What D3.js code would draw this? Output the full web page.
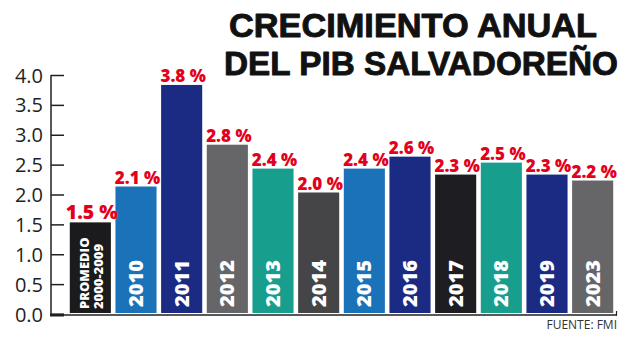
<!DOCTYPE html>
<html><head><meta charset="utf-8">
<script src="https://cdn.jsdelivr.net/npm/d3@7"></script>
<style>html,body{margin:0;padding:0;background:#fff}svg{display:block}</style>
</head><body><svg id="c" width="627" height="342"></svg>
<script>
const categories = ["PROMEDIO", "2010", "2011", "2012", "2013", "2014", "2015", "2016", "2017", "2018", "2019", "2023"];
const values = [1.5, 2.1, 3.8, 2.8, 2.4, 2.0, 2.4, 2.6, 2.3, 2.5, 2.3, 2.2];
const valueLabels = ["1.5 %", "2.1 %", "3.8 %", "2.8 %", "2.4 %", "2.0 %", "2.4 %", "2.6 %", "2.3 %", "2.5 %", "2.3 %", "2.2 %"];
const colors = ["#1b1a1c", "#1a73b8", "#1b2a82", "#666668", "#179e8d", "#454547", "#1a73b8", "#1b2a82", "#1e1e22", "#179e8d", "#1b2a82", "#666668"];
const yTicks = [0, 0.5, 1.0, 1.5, 2.0, 2.5, 3.0, 3.5, 4.0];
const titleLines = ["CRECIMIENTO ANUAL", "DEL PIB SALVADOREÑO"];
const sourceText = "FUENTE: FMI";
const promedioSub = "2000-2009";

const svg = d3.select("#c");
const x = d3.scaleBand().domain(categories).range([67.5, 615.5]).paddingInner(0.1).paddingOuter(0.05);
const y = d3.scaleLinear().domain([0, 4]).range([314, 75]);

// title
const tg = svg.append("g").attr("font-family", "'Liberation Sans', Arial, sans-serif").attr("font-weight", 700)
  .attr("fill", "#111").attr("stroke", "#111").attr("stroke-width", 0.9).attr("stroke-linejoin", "round").attr("font-size", 33);
tg.append("text").attr("x", 229).attr("y", 36.5).attr("textLength", 368).attr("lengthAdjust", "spacingAndGlyphs").text(titleLines[0]);
tg.append("text").attr("x", 224).attr("y", 74.5).attr("textLength", 394).attr("lengthAdjust", "spacingAndGlyphs").text(titleLines[1]);

// axis
const axis = d3.axisRight(y).tickValues(yTicks).tickSize(13).tickFormat(d3.format(".1f"));
const ag = svg.append("g").attr("transform", "translate(51,0)").call(axis);
ag.select(".domain").attr("stroke", "#231f20").attr("stroke-width", 1.5).attr("d", `M0,${y(4)}V${y(0)+1}`);
ag.selectAll(".tick line").attr("stroke", "#231f20").attr("stroke-width", 1.5);
ag.selectAll(".tick text").attr("x", -8).attr("text-anchor", "end").attr("dy", "0.35em")
  .attr("font-family", "'Open Sans', sans-serif").attr("font-size", 20).attr("fill", "#231f20");

// baseline
svg.append("line").attr("x1", 50).attr("x2", 617).attr("y1", y(0) + 1).attr("y2", y(0) + 1).attr("stroke", "#231f20").attr("stroke-width", 1.5);
svg.append("line").attr("x1", 50).attr("x2", 64).attr("y1", y(0) + 1).attr("y2", y(0) + 1).attr("stroke", "#231f20").attr("stroke-width", 3);
svg.append("line").attr("x1", 616.5).attr("x2", 616.5).attr("y1", y(0) + 1.5).attr("y2", y(0) - 3).attr("stroke", "#231f20").attr("stroke-width", 1.2);

// bars
svg.append("g").selectAll("rect").data(categories).join("rect")
  .attr("x", d => x(d)).attr("width", x.bandwidth())
  .attr("y", (d, i) => y(values[i]) - 2).attr("height", (d, i) => y(0) - 1 - y(values[i]) + 2)
  .attr("fill", (d, i) => colors[i]);

// value labels
svg.append("g").selectAll("text").data(categories).join("text")
  .attr("x", d => x(d) + x.bandwidth() / 2 + 1.5)
  .attr("y", (d, i) => y(values[i]) - 5)
  .attr("text-anchor", "middle")
  .attr("font-family", "'Open Sans', sans-serif").attr("font-weight", 800)
  .attr("font-size", (d, i) => i === 0 ? 19.5 : 17)
  .attr("fill", "#e3001b")
  .text((d, i) => valueLabels[i]);

// year labels inside bars
const yl = svg.append("g").attr("font-family", "'Open Sans', sans-serif").attr("font-weight", 800).attr("fill", "#fff");
categories.forEach((c, i) => {
  const cx = x(c) + x.bandwidth() / 2;
  if (i === 0) {
    yl.append("text").attr("transform", `translate(${cx - 1},${y(0) - 5}) rotate(-90)`).attr("font-size", 13).text(c);
    yl.append("text").attr("transform", `translate(${cx + 13},${y(0) - 5}) rotate(-90)`).attr("font-size", 13).text(promedioSub);
  } else {
    yl.append("text").attr("transform", `translate(${cx + 7},${y(0) - 7}) rotate(-90)`).attr("font-size", 20).text(c);
  }
});

// source
svg.append("text").attr("x", 617).attr("y", 329).attr("text-anchor", "end")
  .attr("font-family", "'Open Sans', sans-serif").attr("font-size", 12).attr("fill", "#333").text(sourceText);
</script></body></html>
